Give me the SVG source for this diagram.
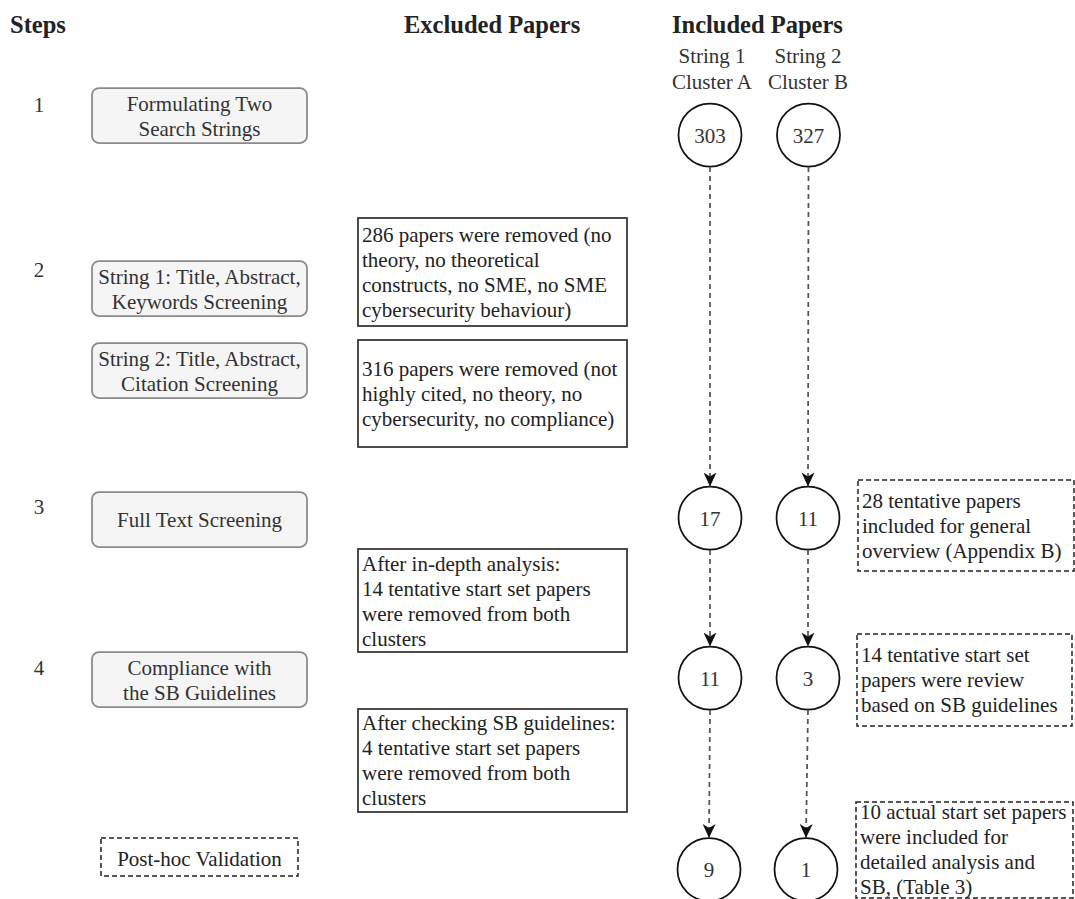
<svg xmlns="http://www.w3.org/2000/svg" width="1075" height="899" viewBox="0 0 1075 899">
  <style>
    text { font-family: "Liberation Serif", "Times New Roman", serif; font-size: 21px; fill: #222; }
    .hdr { font-size: 24.5px; font-weight: bold; fill: #222; }
    .num { fill: #333; text-anchor: middle; }
    .step rect { fill: #f5f5f5; stroke: #8a8a8a; stroke-width: 1.75; }
    .step text { fill: #333; text-anchor: middle; }
    .excl rect { fill: #fff; stroke: #333; stroke-width: 1.75; }
    .note rect { fill: #fff; stroke: #222; stroke-width: 1.5; stroke-dasharray: 5 3; }
    .count circle { fill: #fff; stroke: #111; stroke-width: 1.75; }
    .count text { text-anchor: middle; fill: #333; }
    .ctr { text-anchor: middle; fill: #333; }
    #connectors line { stroke: #555; stroke-width: 1.75; stroke-dasharray: 5 4; marker-end: url(#arrow); }
  </style>
  <defs>
    <marker id="arrow" markerUnits="userSpaceOnUse" viewBox="0 0 14 14" markerWidth="14" markerHeight="14" refX="14" refY="7" orient="auto">
      <path d="M0,0.5 L14,7 L0,13.5 L4,7 Z" fill="#111"/>
    </marker>
  </defs>
  <rect width="1075" height="899" fill="#fff"/>

  <!-- column headings -->
  <text class="hdr" x="10" y="33">Steps</text>
  <text class="hdr" x="404" y="33">Excluded Papers</text>
  <text class="hdr" x="672" y="33">Included Papers</text>
  <text class="ctr" x="712" y="63">String 1</text>
  <text class="ctr" x="712" y="89">Cluster A</text>
  <text class="ctr" x="808" y="63">String 2</text>
  <text class="ctr" x="808" y="89">Cluster B</text>

  <!-- step numbers -->
  <text class="num" x="39" y="112">1</text>
  <text class="num" x="39" y="277">2</text>
  <text class="num" x="39" y="514">3</text>
  <text class="num" x="39" y="675">4</text>

  <!-- step boxes -->
  <g id="step1" class="step">
    <rect x="92" y="88" width="215" height="55" rx="7"/>
    <text x="199.5" y="111">Formulating Two</text>
    <text x="199.5" y="136">Search Strings</text>
  </g>
  <g id="step2a" class="step">
    <rect x="92" y="261" width="215" height="55" rx="7"/>
    <text x="199.5" y="284">String 1: Title, Abstract,</text>
    <text x="199.5" y="309">Keywords Screening</text>
  </g>
  <g id="step2b" class="step">
    <rect x="92" y="343" width="215" height="55" rx="7"/>
    <text x="199.5" y="366">String 2: Title, Abstract,</text>
    <text x="199.5" y="391">Citation Screening</text>
  </g>
  <g id="step3" class="step">
    <rect x="92" y="492" width="215" height="55" rx="7"/>
    <text x="199.5" y="527">Full Text Screening</text>
  </g>
  <g id="step4" class="step">
    <rect x="92" y="652" width="215" height="55" rx="7"/>
    <text x="199.5" y="675">Compliance with</text>
    <text x="199.5" y="700">the SB Guidelines</text>
  </g>
  <g id="posthoc" class="note">
    <rect x="101" y="838" width="197" height="38"/>
    <text x="199.5" y="866" text-anchor="middle">Post-hoc Validation</text>
  </g>

  <!-- excluded papers -->
  <g id="excl1" class="excl">
    <rect x="358" y="218" width="269" height="108"/>
    <text x="362" y="242">286 papers were removed (no</text>
    <text x="362" y="267">theory, no theoretical</text>
    <text x="362" y="292">constructs, no SME, no SME</text>
    <text x="362" y="317">cybersecurity behaviour)</text>
  </g>
  <g id="excl2" class="excl">
    <rect x="358" y="340" width="269" height="107"/>
    <text x="362" y="376">316 papers were removed (not</text>
    <text x="362" y="401">highly cited, no theory, no</text>
    <text x="362" y="426">cybersecurity, no compliance)</text>
  </g>
  <g id="excl3" class="excl">
    <rect x="358" y="549" width="269" height="103"/>
    <text x="362" y="571">After in-depth analysis:</text>
    <text x="362" y="596">14 tentative start set papers</text>
    <text x="362" y="621">were removed from both</text>
    <text x="362" y="646">clusters</text>
  </g>
  <g id="excl4" class="excl">
    <rect x="358" y="709" width="269" height="103"/>
    <text x="362" y="730">After checking SB guidelines:</text>
    <text x="362" y="755">4 tentative start set papers</text>
    <text x="362" y="780">were removed from both</text>
    <text x="362" y="805">clusters</text>
  </g>

  <!-- included paper counts -->
  <g id="a303" class="count"><circle cx="710" cy="135" r="31.5"/><text x="710" y="142.5">303</text></g>
  <g id="b327" class="count"><circle cx="808.5" cy="135" r="31.5"/><text x="808.5" y="142.5">327</text></g>
  <g id="a17" class="count"><circle cx="710" cy="518" r="31.5"/><text x="710" y="525.5">17</text></g>
  <g id="b11" class="count"><circle cx="808" cy="518" r="31.5"/><text x="808" y="525.5">11</text></g>
  <g id="a11" class="count"><circle cx="710" cy="678" r="31.5"/><text x="710" y="685.5">11</text></g>
  <g id="b3" class="count"><circle cx="808" cy="678" r="31.5"/><text x="808" y="685.5">3</text></g>
  <g id="a9" class="count"><circle cx="709" cy="869.5" r="31.5"/><text x="709" y="877">9</text></g>
  <g id="b1" class="count"><circle cx="806" cy="869.5" r="31.5"/><text x="806" y="877">1</text></g>

  <!-- notes on the right -->
  <g id="note1" class="note">
    <rect x="858" y="480" width="216" height="91"/>
    <text x="862" y="508">28 tentative papers</text>
    <text x="862" y="533">included for general</text>
    <text x="862" y="558">overview (Appendix B)</text>
  </g>
  <g id="note2" class="note">
    <rect x="857" y="634" width="215" height="92"/>
    <text x="861" y="662">14 tentative start set</text>
    <text x="861" y="687">papers were review</text>
    <text x="861" y="712">based on SB guidelines</text>
  </g>
  <g id="note3" class="note">
    <rect x="856" y="802" width="217" height="96"/>
    <text x="860" y="819">10 actual start set papers</text>
    <text x="860" y="844">were included for</text>
    <text x="860" y="869">detailed analysis and</text>
    <text x="860" y="894">SB, (Table 3)</text>
  </g>

  <!-- flow between counts -->
  <g id="connectors">
    <line x1="710" y1="167" x2="710" y2="486.5"/>
    <line x1="808.5" y1="167" x2="808" y2="486.5"/>
    <line x1="710" y1="550" x2="710" y2="646.5"/>
    <line x1="808" y1="550" x2="808" y2="646.5"/>
    <line x1="710" y1="710" x2="709" y2="838"/>
    <line x1="808" y1="710" x2="806" y2="838"/>
  </g>
</svg>
